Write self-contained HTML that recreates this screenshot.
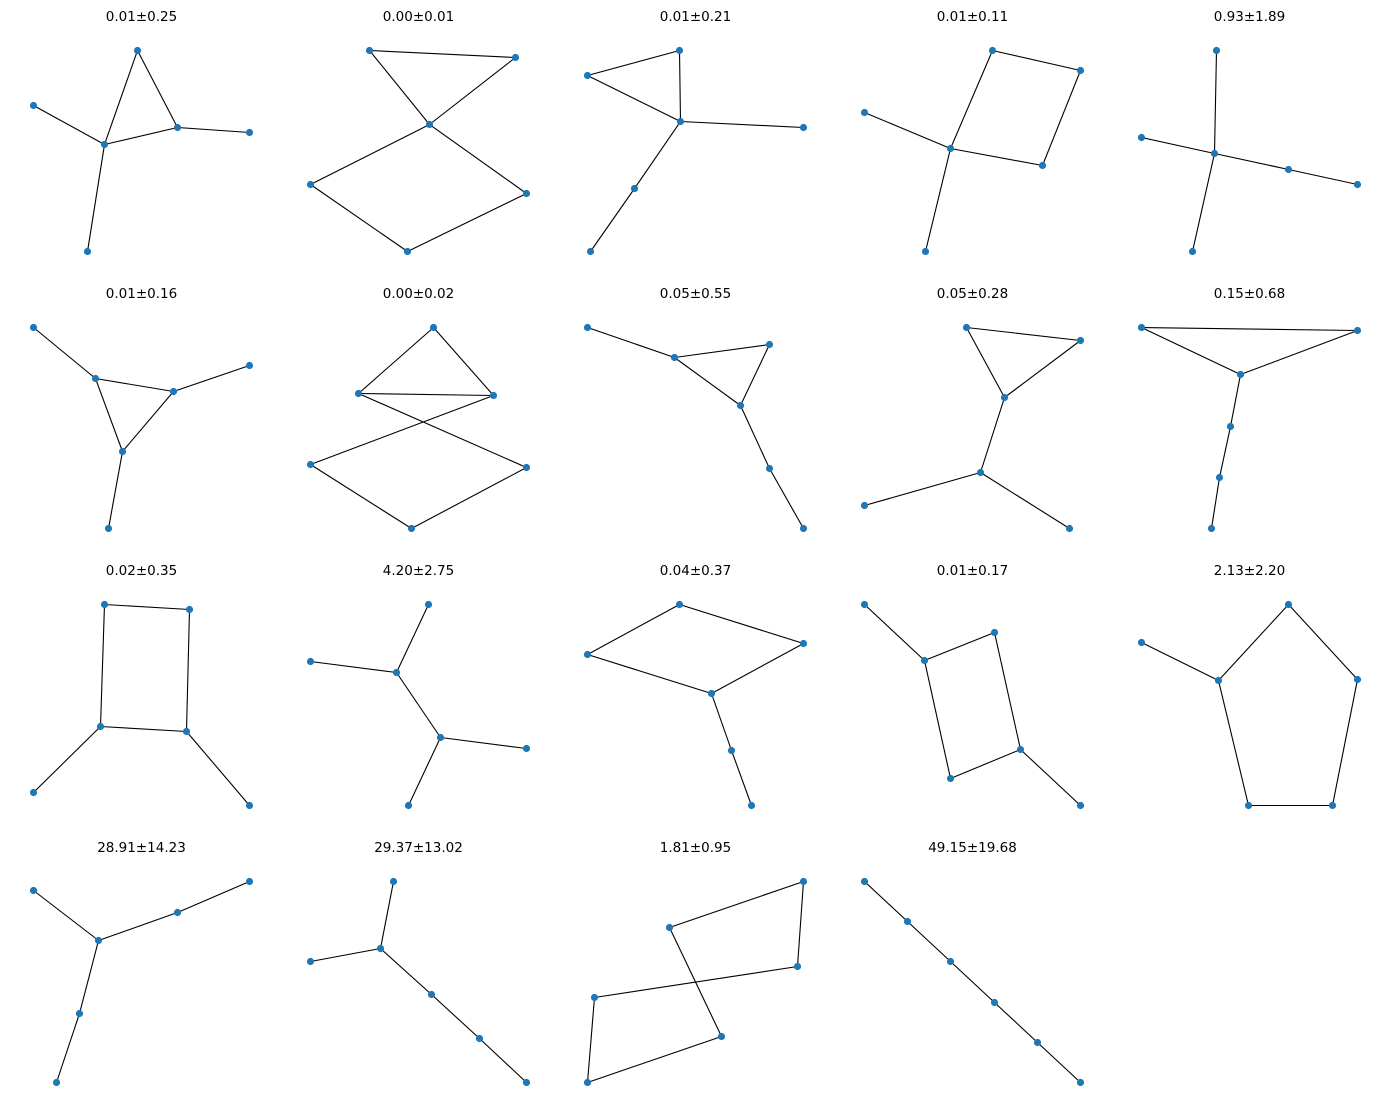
<!DOCTYPE html>
<html>
<head>
<meta charset="utf-8">
<style>
html,body{margin:0;padding:0;background:#fff;}
svg{display:block;}
text{font-family:"DejaVu Sans","Liberation Sans",sans-serif;font-size:13.5px;fill:#000;}
</style>
</head>
<body>
<svg id="chart" width="1389" height="1113" xmlns="http://www.w3.org/2000/svg"></svg>
<script>
// Panel titles
const titles = ["0.01±0.25","0.00±0.01","0.01±0.21","0.01±0.11","0.93±1.89",
"0.01±0.16","0.00±0.02","0.05±0.55","0.05±0.28","0.15±0.68",
"0.02±0.35","4.20±2.75","0.04±0.37","0.01±0.17","2.13±2.20",
"28.91±14.23","29.37±13.02","1.81±0.95","49.15±19.68"];
// Node layout coordinates (x in 0..216, y in 0..201) per panel
const nodeX = [
[104,0,71,144,216,54],[59,205,119,0,216,97],[92,0,93,216,47,3],[128,216,0,86,178,61],[75,0,73,147,216,51],
[0,216,62,140,89,75],[123,48,183,0,216,101],[0,182,87,153,182,216],[102,216,140,116,0,205],[0,216,99,89,78,70],
[71,156,67,153,0,216],[118,0,86,130,216,98],[92,216,0,124,144,164],[0,130,60,156,86,216],[147,0,216,77,107,191],
[216,0,144,65,46,23],[83,70,0,121,169,216],[216,82,210,7,134,0],[0,43,86,130,173,216]];
const nodeY = [
[0,55,94,77,82,201],[0,7,74,134,143,201],[0,25,71,77,138,201],[0,20,62,98,115,201],[0,87,103,119,134,201],
[0,38,51,64,124,201],[0,66,68,137,140,201],[0,17,30,78,141,201],[0,13,70,145,178,201],[0,3,47,99,150,201],
[0,5,122,127,188,201],[0,57,68,133,144,201],[0,39,50,89,146,201],[0,28,56,145,174,201],[0,38,75,76,201,201],
[0,9,31,59,132,201],[0,67,80,113,157,201],[0,46,85,116,155,201],[0,40,80,121,161,201]];
// Edges as node index pairs
const edges = [
[[0,2],[0,3],[1,2],[2,3],[3,4],[2,5]],
[[0,1],[0,2],[1,2],[2,3],[2,4],[3,5],[4,5]],
[[0,1],[0,2],[1,2],[2,3],[2,4],[4,5]],
[[0,1],[0,3],[1,4],[3,4],[2,3],[3,5]],
[[0,2],[1,2],[2,3],[3,4],[2,5]],
[[0,2],[2,3],[2,4],[3,4],[1,3],[4,5]],
[[0,1],[0,2],[1,2],[1,4],[2,3],[3,5],[4,5]],
[[0,2],[2,1],[1,3],[2,3],[3,4],[4,5]],
[[0,1],[0,2],[1,2],[2,3],[3,4],[3,5]],
[[0,1],[0,2],[1,2],[2,3],[3,4],[4,5]],
[[0,1],[0,2],[1,3],[2,3],[2,4],[3,5]],
[[0,2],[1,2],[2,3],[3,4],[3,5]],
[[0,1],[0,2],[1,3],[2,3],[3,4],[4,5]],
[[0,2],[1,2],[1,3],[2,4],[3,4],[3,5]],
[[0,3],[0,2],[1,3],[3,4],[4,5],[2,5]],
[[1,3],[3,2],[2,0],[3,4],[4,5]],
[[0,1],[1,2],[1,3],[3,4],[4,5]],
[[0,1],[0,2],[1,4],[2,3],[3,5],[4,5]],
[[0,1],[1,2],[2,3],[3,4],[4,5]]];

const NS="http://www.w3.org/2000/svg";
const svg=document.getElementById('chart');
const colLeft=[33.5,310.5,587.5,864.5,1141.5];
const rowTop=[50.5,327.5,604.5,881.5];
function sx(p,v){return colLeft[p%5]+v;}
function sy(p,v){return rowTop[Math.floor(p/5)]+v;}

titles.forEach((t,p)=>{
  const g=document.createElementNS(NS,'g');
  
  
  svg.appendChild(g);
  const tx=document.createElementNS(NS,'text');
  tx.setAttribute('x',sx(p,108));
  tx.setAttribute('y',sy(p,-29.5));
  tx.setAttribute('text-anchor','middle');
  tx.textContent=t;
  
  
  g.appendChild(tx);
  edges[p].forEach(e=>{
    const l=document.createElementNS(NS,'line');
    l.setAttribute('x1',sx(p,nodeX[p][e[0]]));
    l.setAttribute('y1',sy(p,nodeY[p][e[0]]));
    l.setAttribute('x2',sx(p,nodeX[p][e[1]]));
    l.setAttribute('y2',sy(p,nodeY[p][e[1]]));
    l.setAttribute('stroke','#000');
    l.setAttribute('stroke-width','1.1');
    
    
    g.appendChild(l);
  });
  nodeX[p].forEach((x,i)=>{
    const c=document.createElementNS(NS,'circle');
    c.setAttribute('cx',sx(p,x));
    c.setAttribute('cy',sy(p,nodeY[p][i]));
    c.setAttribute('r','3.6');
    c.setAttribute('fill','#1f77b4');
    
    
    g.appendChild(c);
  });
});
</script>
</body>
</html>
